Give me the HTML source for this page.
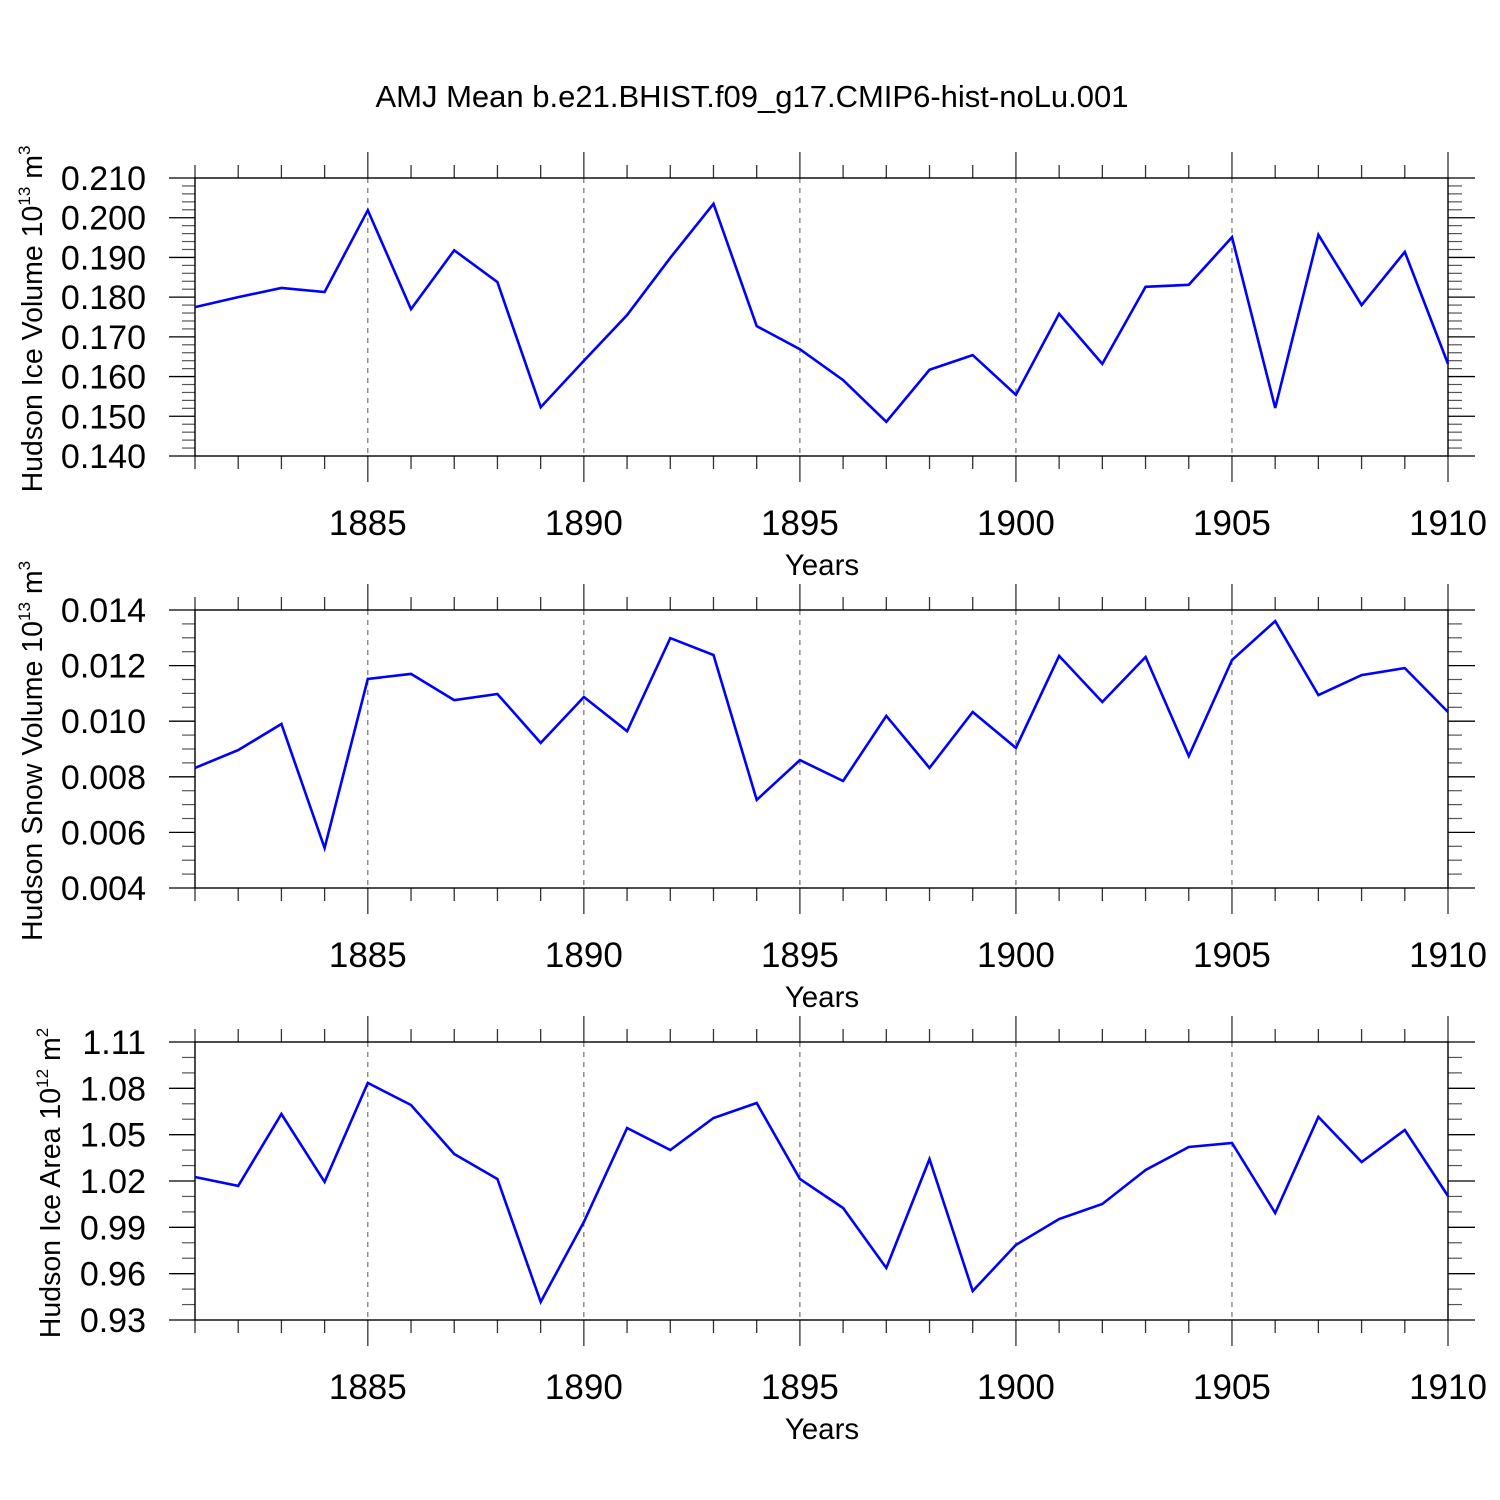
<!DOCTYPE html>
<html><head><meta charset="utf-8">
<style>html,body{margin:0;padding:0;background:#fff}svg{display:block}text{font-family:"Liberation Sans",sans-serif;fill:#000}</style>
</head><body>
<svg id="chart" width="1500" height="1500" viewBox="0 0 1500 1500" xmlns="http://www.w3.org/2000/svg">
<rect width="1500" height="1500" fill="#fff"/>
<text x="752" y="107" font-size="31" text-anchor="middle">AMJ Mean b.e21.BHIST.f09_g17.CMIP6-hist-noLu.001</text>
</svg>
<script>
const years = [1881,1882,1883,1884,1885,1886,1887,1888,1889,1890,1891,1892,1893,1894,1895,1896,1897,1898,1899,1900,1901,1902,1903,1904,1905,1906,1907,1908,1909,1910];
const iceVolume = [0.1775,0.1800,0.1823,0.1813,0.2019,0.1770,0.1918,0.1838,0.1523,0.1640,0.1755,0.1899,0.2035,0.1727,0.1669,0.1591,0.1486,0.1617,0.1654,0.1554,0.1758,0.1632,0.1826,0.1831,0.1951,0.1521,0.1957,0.1780,0.1914,0.1632];
const snowVolume = [0.00832,0.00896,0.0099,0.00544,0.01152,0.0117,0.01076,0.01098,0.00922,0.01087,0.00964,0.01299,0.01238,0.00717,0.0086,0.00785,0.01019,0.00832,0.01033,0.00904,0.01235,0.01069,0.01231,0.00875,0.0122,0.0136,0.01094,0.01166,0.01191,0.01033];
const iceArea = [1.0226,1.0168,1.0634,1.0194,1.0835,1.0692,1.0375,1.0213,0.9417,0.9935,1.0543,1.0401,1.0608,1.0705,1.0213,1.0025,0.9637,1.0342,0.9488,0.9786,0.9954,1.0051,1.0271,1.042,1.0446,0.9993,1.0615,1.0323,1.053,1.0103];
const xTickLabels = [1885,1890,1895,1900,1905,1910];
const iceVolTicks = ["0.140","0.150","0.160","0.170","0.180","0.190","0.200","0.210"];
const snowTicks = ["0.004","0.006","0.008","0.010","0.012","0.014"];
const areaTicks = ["0.93","0.96","0.99","1.02","1.05","1.08","1.11"];

const NS="http://www.w3.org/2000/svg";
const svg=document.getElementById('chart');
function mk(tag,attrs,parent){const e=document.createElementNS(NS,tag);for(const k in attrs)e.setAttribute(k,attrs[k]);(parent||svg).appendChild(e);return e;}
const L=195,R=1448,H=278;
const xScale=y=>L+(y-1881)/(1910-1881)*(R-L);

function panel(name,top,data,ticks,minorPerMajor,titleParts,titleX){
  const g=mk('g',{});
  
  
  const vals=ticks.map(Number);
  const lo=vals[0],hi=vals[vals.length-1];
  const bot=top+H;
  const yScale=v=>bot-(v-lo)/(hi-lo)*H;
  xTickLabels.forEach(yr=>{
    const l=mk('line',{x1:xScale(yr),x2:xScale(yr),y1:top,y2:bot,stroke:'#555','stroke-width':1,'stroke-dasharray':'5,5'},g);
    
    
  });
  years.forEach(yr=>{
    const x=xScale(yr);const major=yr%5===0;const len=major?26:13;
    mk('line',{x1:x,x2:x,y1:top-len,y2:top,stroke:'#333','stroke-width':1.3},g);
    mk('line',{x1:x,x2:x,y1:bot,y2:bot+len,stroke:'#333','stroke-width':1.3},g);
  });
  const step=(vals[1]-vals[0])/(minorPerMajor+1);
  for(let i=0;i<vals.length;i++){
    const y=yScale(vals[i]);
    mk('line',{x1:L-26,x2:L,y1:y,y2:y,stroke:'#000','stroke-width':1.3},g);
    mk('line',{x1:R,x2:R+27,y1:y,y2:y,stroke:'#000','stroke-width':1.3},g);
    const t=mk('text',{x:146,y:y+12,'font-size':34,'text-anchor':'end'},g);
    t.textContent=ticks[i];
    
    
    if(i<vals.length-1)for(let j=1;j<=minorPerMajor;j++){
      const yy=yScale(vals[i]+step*j);
      mk('line',{x1:L-13,x2:L,y1:yy,y2:yy,stroke:'#555','stroke-width':1.2},g);
      mk('line',{x1:R,x2:R+14,y1:yy,y2:yy,stroke:'#555','stroke-width':1.2},g);
    }
  }
  const f=mk('rect',{x:L,y:top,width:R-L,height:H,fill:'none',stroke:'#000','stroke-width':1.4},g);
  
  
  xTickLabels.forEach(yr=>{
    const t=mk('text',{x:xScale(yr),y:bot+79,'font-size':35,'text-anchor':'middle'},g);
    t.textContent=yr;
    
    
  });
  const xt=mk('text',{x:822,y:bot+119,'font-size':29.5,'text-anchor':'middle'},g);
  xt.textContent='Years';
  
  
  const cy=top+H/2+2;
  const yt=mk('text',{x:0,y:0,'font-size':28.5,'text-anchor':'middle',transform:`translate(${titleX},${cy}) rotate(-90)`},g);
  
  
  const s1=mk('tspan',{},yt);s1.textContent=titleParts[0];
  const s2=mk('tspan',{dy:-12,'font-size':17},yt);s2.textContent=titleParts[1];
  const s3=mk('tspan',{dy:12},yt);s3.textContent=' '+titleParts[2];
  const s4=mk('tspan',{dy:-12,'font-size':17},yt);s4.textContent=titleParts[3];
  const pts=years.map((yr,i)=>xScale(yr).toFixed(1)+','+yScale(data[i]).toFixed(1)).join(' ');
  const pl=mk('polyline',{points:pts,fill:'none',stroke:'#0000ff','stroke-width':2.6,'stroke-linejoin':'miter'},g);
  
  
}
panel('hudson-ice-volume',178,iceVolume,iceVolTicks,4,['Hudson Ice Volume 10','13','m','3'],42);
panel('hudson-snow-volume',610,snowVolume,snowTicks,3,['Hudson Snow Volume 10','13','m','3'],42);
panel('hudson-ice-area',1042,iceArea,areaTicks,2,['Hudson Ice Area 10','12','m','2'],60);
</script>
</body></html>
